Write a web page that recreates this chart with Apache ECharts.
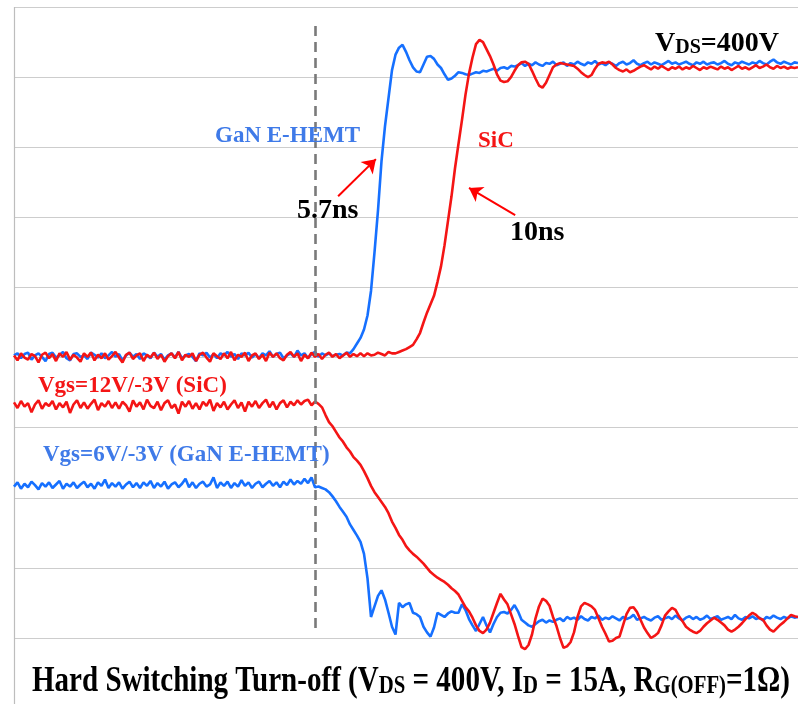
<!DOCTYPE html>
<html>
<head>
<meta charset="utf-8">
<script src="https://cdn.jsdelivr.net/npm/echarts@6/dist/echarts.min.js"></script>
<style>
html, body { margin: 0; padding: 0; background: #ffffff; }
#chart { width: 798px; height: 704px; }
</style>
</head>
<body>
<div id="chart"></div>
<script>
// Scope capture: time axis in ns (sample step below), vertical axis in screen divisions.
const STEP_NS = 0.5;

// Drain-source voltage, GaN E-HEMT (divisions)
const vdsGaN = [
  4.03,4.06,3.99,4.05,4.07,3.97,4.03,4.06,4.01,3.95,
  4.05,4.07,4.00,4.03,4.08,3.99,3.96,4.05,4.06,4.01,
  4.03,3.98,4.07,4.04,4.00,4.06,3.99,4.03,4.08,4.01,
  4.05,3.96,4.03,4.07,4.01,4.05,3.98,4.06,4.03,3.99,
  4.07,4.01,4.05,3.97,4.03,4.06,4.00,4.08,3.99,4.03,
  4.05,4.01,3.95,4.06,4.03,4.07,4.00,4.05,3.99,4.06,
  4.03,4.08,4.01,4.05,3.98,4.06,4.03,4.07,4.00,4.05,
  3.99,4.06,4.03,4.09,4.01,4.05,4.07,3.99,4.03,4.06,
  4.01,4.10,4.03,4.06,3.99,4.05,4.08,4.01,4.06,4.03,
  4.06,4.02,4.04,4.05,4.03,4.07,4.06,4.12,4.20,4.28,
  4.40,4.60,4.95,5.50,6.10,6.80,7.30,7.70,8.10,8.32,
  8.42,8.46,8.36,8.24,8.14,8.08,8.07,8.18,8.29,8.30,
  8.26,8.18,8.13,8.04,7.96,7.98,8.02,8.07,8.06,8.04,
  8.03,8.05,8.07,8.06,8.09,8.08,8.10,8.12,8.09,8.13,
  8.14,8.12,8.16,8.15,8.17,8.20,8.16,8.19,8.17,8.21,
  8.18,8.16,8.20,8.19,8.22,8.17,8.19,8.21,8.16,8.20,
  8.18,8.22,8.19,8.17,8.21,8.19,8.23,8.18,8.20,8.17,
  8.21,8.19,8.16,8.20,8.22,8.18,8.20,8.24,8.19,8.17,
  8.20,8.22,8.18,8.21,8.19,8.17,8.20,8.23,8.19,8.21,
  8.18,8.20,8.22,8.19,8.17,8.21,8.19,8.22,8.18,8.20,
  8.21,8.18,8.20,8.23,8.19,8.17,8.21,8.19,8.22,8.20,
  8.18,8.21,8.19,8.23,8.20,8.18,8.22,8.25,8.21,8.19,
  8.22,8.20,8.18,8.21,8.20
];

// Drain-source voltage, SiC MOSFET (divisions)
const vdsSiC = [
  4.03,3.96,4.06,4.00,3.97,4.05,4.02,3.93,4.04,4.07,
  3.99,4.05,3.95,4.06,4.01,4.08,3.97,4.04,4.00,3.94,
  4.06,4.01,4.07,3.96,4.04,3.99,4.06,3.97,4.02,4.08,
  4.00,3.93,4.04,4.07,3.98,4.03,4.06,3.95,4.04,4.00,
  4.07,3.98,4.04,3.94,4.02,4.06,3.99,4.08,3.96,4.04,
  4.01,4.06,3.95,4.04,4.07,4.00,3.94,4.06,4.02,3.98,
  4.06,3.99,4.08,3.96,4.04,4.01,4.07,3.95,4.03,4.06,
  3.98,4.04,3.95,4.07,4.01,4.06,3.99,3.96,4.04,4.08,
  4.01,4.06,3.95,4.04,3.99,4.07,4.01,4.05,3.98,4.04,
  4.07,4.01,4.05,3.99,4.03,4.07,4.01,4.05,4.02,4.06,
  4.02,4.06,4.03,4.04,4.07,4.05,4.03,4.08,4.06,4.06,
  4.08,4.10,4.12,4.15,4.18,4.26,4.35,4.50,4.64,4.76,
  4.88,5.08,5.30,5.60,5.95,6.30,6.70,7.05,7.39,7.75,
  8.05,8.28,8.47,8.53,8.50,8.40,8.30,8.18,8.04,7.95,
  7.93,7.94,8.00,8.09,8.17,8.21,8.22,8.19,8.09,7.98,
  7.88,7.85,7.92,8.03,8.14,8.18,8.20,8.19,8.18,8.17,
  8.16,8.12,8.07,8.03,8.00,8.03,8.12,8.19,8.21,8.20,
  8.22,8.18,8.13,8.10,8.08,8.11,8.07,8.09,8.12,8.15,
  8.17,8.14,8.11,8.15,8.12,8.16,8.13,8.10,8.14,8.12,
  8.15,8.11,8.14,8.12,8.16,8.13,8.10,8.14,8.12,8.15,
  8.13,8.11,8.15,8.12,8.14,8.10,8.13,8.16,8.12,8.14,
  8.11,8.14,8.17,8.13,8.15,8.18,8.14,8.12,8.16,8.13,
  8.15,8.12,8.14,8.13,8.14
];

// Gate-source voltage, SiC MOSFET, 12V/-3V drive (divisions)
const vgsSiC = [
  3.36,3.28,3.38,3.30,3.35,3.22,3.33,3.39,3.27,3.35,
  3.31,3.38,3.26,3.35,3.29,3.37,3.21,3.33,3.39,3.28,
  3.36,3.27,3.34,3.40,3.25,3.35,3.30,3.38,3.28,3.36,
  3.27,3.37,3.32,3.23,3.39,3.30,3.36,3.26,3.40,3.31,
  3.28,3.37,3.25,3.35,3.39,3.28,3.33,3.20,3.37,3.30,
  3.38,3.27,3.35,3.26,3.37,3.31,3.40,3.24,3.35,3.29,
  3.37,3.26,3.33,3.39,3.28,3.36,3.23,3.37,3.30,3.38,
  3.28,3.35,3.40,3.29,3.37,3.26,3.35,3.39,3.29,3.37,
  3.32,3.39,3.33,3.38,3.40,3.32,3.37,3.34,3.29,3.18,
  3.08,3.02,2.94,2.86,2.80,2.72,2.66,2.58,2.53,2.47,
  2.38,2.28,2.17,2.08,2.01,1.94,1.87,1.78,1.66,1.57,
  1.47,1.40,1.31,1.25,1.20,1.16,1.11,1.06,1.00,0.94,
  0.90,0.86,0.83,0.80,0.76,0.71,0.67,0.62,0.53,0.44,
  0.38,0.29,0.18,0.10,0.07,0.12,0.22,0.36,0.50,0.63,
  0.55,0.48,0.34,0.20,0.03,-0.13,-0.16,-0.10,0.05,0.28,
  0.45,0.56,0.53,0.46,0.30,0.17,0.00,-0.14,-0.12,-0.06,
  0.08,0.30,0.45,0.50,0.48,0.45,0.40,0.28,0.16,0.06,
  -0.05,-0.04,0.00,0.02,0.18,0.34,0.43,0.44,0.37,0.26,
  0.15,0.07,0.00,0.03,0.07,0.18,0.32,0.38,0.43,0.40,
  0.31,0.24,0.16,0.12,0.09,0.07,0.10,0.16,0.21,0.25,
  0.29,0.26,0.22,0.18,0.12,0.09,0.12,0.16,0.21,0.27,
  0.32,0.36,0.33,0.28,0.26,0.18,0.12,0.09,0.14,0.19,
  0.23,0.28,0.33,0.31,0.30
];

// Gate-source voltage, GaN E-HEMT, 6V/-3V drive (divisions)
const vgsGaN = [
  2.16,2.22,2.13,2.20,2.15,2.23,2.18,2.12,2.21,2.16,
  2.22,2.14,2.19,2.24,2.13,2.20,2.16,2.22,2.14,2.19,
  2.23,2.15,2.20,2.13,2.22,2.17,2.26,2.14,2.21,2.16,
  2.22,2.13,2.19,2.23,2.15,2.21,2.14,2.22,2.17,2.24,
  2.14,2.21,2.16,2.23,2.13,2.19,2.22,2.15,2.20,2.27,
  2.15,2.22,2.14,2.20,2.23,2.16,2.19,2.29,2.14,2.22,
  2.17,2.23,2.14,2.21,2.16,2.25,2.17,2.22,2.14,2.20,
  2.23,2.15,2.20,2.24,2.17,2.22,2.15,2.23,2.18,2.26,
  2.19,2.24,2.20,2.27,2.21,2.29,2.15,2.16,2.14,2.12,
  2.08,2.02,1.95,1.87,1.80,1.73,1.62,1.54,1.46,1.37,
  1.20,0.85,0.30,0.45,0.60,0.68,0.55,0.36,0.16,0.05,
  0.50,0.44,0.48,0.50,0.36,0.34,0.30,0.16,0.08,0.02,
  0.15,0.36,0.33,0.30,0.35,0.38,0.36,0.36,0.48,0.40,
  0.27,0.18,0.10,0.20,0.30,0.18,0.08,0.20,0.30,0.36,
  0.37,0.35,0.40,0.47,0.38,0.26,0.22,0.18,0.16,0.20,
  0.24,0.26,0.22,0.25,0.23,0.26,0.28,0.24,0.30,0.27,
  0.29,0.26,0.31,0.27,0.25,0.30,0.28,0.32,0.26,0.29,
  0.27,0.31,0.28,0.25,0.30,0.27,0.29,0.33,0.26,0.28,
  0.30,0.27,0.25,0.29,0.31,0.26,0.28,0.30,0.27,0.32,
  0.28,0.25,0.29,0.31,0.27,0.30,0.26,0.28,0.32,0.27,
  0.29,0.31,0.26,0.28,0.30,0.27,0.33,0.28,0.26,0.30,
  0.28,0.31,0.27,0.29,0.25,0.30,0.28,0.32,0.29,0.27,
  0.30,0.28,0.31,0.29,0.30
];

// Annotation anchors in data units [ns, div]
const turnOffInstant = 43;          // gate command edge (dashed marker)
const markerSpan = [8.73, 0.14];
const arrowGaN = [[46.3, 6.30], [51.7, 6.83]];
const arrowSiC = [[71.6, 6.03], [65.0, 6.42]];

const BLUE = '#1670ff';
const RED = '#f41515';
const LABEL_BLUE = '#3f7ae8';
const SERIF = '"Liberation Serif", "Times New Roman", serif';

const toPairs = arr => arr.map((v, i) => [i * STEP_NS, v]);

const chart = echarts.init(document.getElementById('chart'), null, { renderer: 'canvas' });

function traceSeries(name, data, color, extra) {
  return Object.assign({
    name: name,
    type: 'line',
    data: toPairs(data),
    showSymbol: false,
    symbol: 'none',
    clip: false,
    silent: true,
    animation: false,
    lineStyle: { color: color, width: 2.6 },
    z: 3
  }, extra || {});
}

const option = {
  backgroundColor: '#ffffff',
  animation: false,
  grid: { left: 14, top: 7, right: 0, bottom: 66, containLabel: false },
  xAxis: {
    type: 'value', min: 0, max: 112,
    show: true,
    axisLine: { show: false }, axisTick: { show: false }, axisLabel: { show: false },
    splitLine: { show: false }
  },
  yAxis: {
    type: 'value', min: 0, max: 9, interval: 1,
    axisLine: { show: false }, axisTick: { show: false }, axisLabel: { show: false },
    splitLine: { show: true, lineStyle: { color: '#cdcdcd', width: 1.2 } }
  },
  series: [
    traceSeries('Vds GaN', vdsGaN, BLUE, {
      markLine: {
        silent: true, animation: false, symbol: ['none', 'none'],
        label: { show: false },
        lineStyle: { color: '#7a7a7a', width: 2.6, type: [10, 6] },
        data: [[{ coord: [turnOffInstant, markerSpan[0]] }, { coord: [turnOffInstant, markerSpan[1]] }]]
      }
    }),
    traceSeries('Vds SiC', vdsSiC, RED, {
      z: 4,
      markLine: {
        silent: true, animation: false, symbol: ['none', 'arrow'], symbolSize: 13,
        label: { show: false },
        lineStyle: { color: '#ff0000', width: 2, type: 'solid' },
        data: [
          [{ coord: arrowGaN[0] }, { coord: arrowGaN[1] }],
          [{ coord: arrowSiC[0] }, { coord: arrowSiC[1] }]
        ]
      }
    }),
    traceSeries('Vgs GaN', vgsGaN, BLUE),
    traceSeries('Vgs SiC', vgsSiC, RED, { z: 4 })
  ],
  graphic: [
    { type: 'line', silent: true, z: 1,
      shape: { x1: 14.5, y1: 7, x2: 14.5, y2: 704 },
      style: { stroke: '#bdbdbd', lineWidth: 1.2 } },
    { type: 'text', silent: true, z: 10, x: 215, y: 136,
      style: { text: 'GaN E-HEMT', font: 'bold 23px ' + SERIF, fill: LABEL_BLUE, verticalAlign: 'middle' } },
    { type: 'text', silent: true, z: 10, x: 297, y: 211,
      style: { text: '5.7ns', font: 'bold 28px ' + SERIF, fill: '#000', verticalAlign: 'middle' } },
    { type: 'text', silent: true, z: 10, x: 478, y: 141,
      style: { text: 'SiC', font: 'bold 23px ' + SERIF, fill: RED, verticalAlign: 'middle' } },
    { type: 'text', silent: true, z: 10, x: 510, y: 233,
      style: { text: '10ns', font: 'bold 28px ' + SERIF, fill: '#000', verticalAlign: 'middle' } },
    { type: 'text', silent: true, z: 10, x: 655, y: 43,
      style: {
        text: '{a|V}{s|DS}{a|=400V}',
        verticalAlign: 'middle',
        rich: {
          a: { font: 'bold 28px ' + SERIF, fill: '#000', lineHeight: 30, verticalAlign: 'bottom' },
          s: { font: 'bold 20px ' + SERIF, fill: '#000', lineHeight: 30, verticalAlign: 'bottom', padding: [10, 0, 0, 0] }
        }
      } },
    { type: 'text', silent: true, z: 10, x: 38, y: 386,
      style: { text: 'Vgs=12V/-3V (SiC)', font: 'bold 23px ' + SERIF, fill: RED, verticalAlign: 'middle' } },
    { type: 'text', silent: true, z: 10, x: 43, y: 455,
      style: { text: 'Vgs=6V/-3V (GaN E-HEMT)', font: 'bold 23px ' + SERIF, fill: LABEL_BLUE, verticalAlign: 'middle' } },
    { type: 'text', silent: true, z: 10, x: 411, y: 680, scaleX: 0.83,
      style: {
        text: '{a|Hard Switching Turn-off (V}{s|DS}{a| = 400V, I}{s|D}{a| = 15A, R}{s|G(OFF)}{a|=1Ω)}',
        align: 'center', verticalAlign: 'middle',
        rich: {
          a: { font: 'bold 35px ' + SERIF, fill: '#000', lineHeight: 38, verticalAlign: 'bottom' },
          s: { font: 'bold 25px ' + SERIF, fill: '#000', lineHeight: 38, verticalAlign: 'bottom', padding: [12, 0, 0, 0] }
        }
      } }
  ]
};

chart.setOption(option);
</script>
</body>
</html>
